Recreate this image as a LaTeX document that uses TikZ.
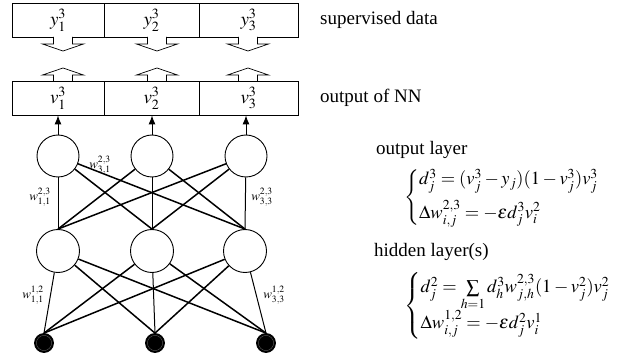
\documentclass[tikz,border=0pt]{standalone}
\usepackage{mathptmx}
\usepackage{fontspec}
\setmainfont{Liberation Serif}
\usetikzlibrary{arrows.meta}

\begin{document}
\begin{tikzpicture}[x=1pt,y=-1pt,
  txt/.style={font=\fontsize{19}{22}\selectfont, inner sep=0pt},
  eqn/.style={font=\fontsize{18.5}{22}\selectfont, inner sep=0pt},
  wlab/.style={font=\fontsize{13}{15}\selectfont, inner sep=0pt},
  cell/.style={draw, line width=0.8pt, minimum height=34pt, inner sep=0pt,
               font=\fontsize{19}{22}\selectfont},
  neuron/.style={draw, circle, line width=0.9pt, minimum size=42pt, inner sep=0pt},
  inputnode/.style={draw, circle, fill=black, line width=0.8pt, minimum size=19pt, inner sep=0pt},
  hollow/.style={draw, line width=0.7pt, fill=white},
  link/.style={line width=1.5pt},
  vlink/.style={line width=1pt},
  outarrow/.style={line width=1pt, -{Latex[length=9pt,width=7pt]}}
]
\useasboundingbox (0,0) rectangle (624,358);

% supervised data row
\node[cell, minimum width=92pt] (y1) at (58,20) {$y_1^3$};
\node[cell, minimum width=95pt] (y2) at (151.5,20) {$y_2^3$};
\node[cell, minimum width=99pt] (y3) at (248.5,20) {$y_3^3$};

% network output row
\node[cell, minimum width=92pt] (v1) at (58,98) {$v_1^3$};
\node[cell, minimum width=95pt] (v2) at (151.5,98) {$v_2^3$};
\node[cell, minimum width=99pt] (v3) at (248.5,98) {$v_3^3$};

% hollow comparison arrows between the two rows
\foreach \cx in {63,157,248}{
  \draw[hollow] (\cx-9.5,37) -- (\cx-9.5,44) -- (\cx-20.5,44) -- (\cx,51)
                -- (\cx+20.5,44) -- (\cx+9.5,44) -- (\cx+9.5,37);
  \draw[hollow] (\cx-9.5,81) -- (\cx-9.5,75) -- (\cx-20.5,75) -- (\cx,68)
                -- (\cx+20.5,75) -- (\cx+9.5,75) -- (\cx+9.5,81);
}

% neurons
\node[neuron] (o1) at (58,156) {};
\node[neuron] (o2) at (152,156) {};
\node[neuron] (o3) at (246,156) {};
\node[neuron, minimum size=43pt] (h1) at (58,251) {};
\node[neuron, minimum size=43pt] (h2) at (152,251) {};
\node[neuron, minimum size=43pt] (h3) at (245,251) {};
\node[inputnode] (i1) at (44,343) {};
\node[inputnode] (i2) at (155,343) {};
\node[inputnode] (i3) at (266,343) {};
\foreach \n in {i1,i2,i3}{
  \draw[black!55, line width=0.3pt] (\n.center) circle (7.6pt);
}

% outputs into the output row
\draw[outarrow] (o1) -- (o1 |- v1.south);
\draw[outarrow] (o2) -- (o2 |- v2.south);
\draw[outarrow] (o3) -- (o3 |- v3.south);

% hidden -> output connections
\foreach \k in {1,2,3}{
  \foreach \j in {1,2,3}{
    \ifnum\j=\k
      \draw[vlink] (o\k) -- (h\j.north);
    \else
      \draw[link] (o\k) -- (h\j.north);
    \fi
  }
}

% input -> hidden connections
\foreach \k in {1,2,3}{
  \foreach \j in {1,2,3}{
    \ifnum\j=\k
      \draw[vlink] (h\k) -- (i\j.north);
    \else
      \draw[link] (h\k) -- (i\j.north);
    \fi
  }
}

% weight labels
\node[wlab] (w31) at (100,165) {$w_{3,1}^{2,3}$};
\node[wlab] (w11b) at (40,197) {$w_{1,1}^{2,3}$};
\node[wlab] (w33b) at (262,197) {$w_{3,3}^{2,3}$};
\node[wlab] (w11a) at (33,295) {$w_{1,1}^{1,2}$};
\node[wlab] (w33a) at (274,295) {$w_{3,3}^{1,2}$};

% captions
\node[txt, anchor=west] (lsup) at (320,20) {supervised data};
\node[txt, anchor=west] (lout) at (320,98) {output of NN};

% update rules
\node[txt, anchor=west] (lol) at (376,150) {output layer};
\node[eqn, anchor=west] (eqo) at (404,198)
  {$\left\{\begin{array}{@{}l@{}}
     d_j^3 = (v_j^3 - y_j)(1 - v_j^3)v_j^3\\[9pt]
     \Delta w_{i,j}^{2,3} = -\varepsilon d_j^3 v_i^2
   \end{array}\right.$};
\node[txt, anchor=west] (lhl) at (374,252) {hidden layer(s)};
\node[eqn, anchor=west] (eqh) at (404,306)
  {$\left\{\begin{array}{@{}l@{}}
     d_j^2 = \sum\limits_{h=1} d_h^3 w_{j,h}^{2,3}(1 - v_j^2)v_j^2\\[10pt]
     \Delta w_{i,j}^{1,2} = -\varepsilon d_j^2 v_i^1
   \end{array}\right.$};
\end{tikzpicture}
\end{document}
